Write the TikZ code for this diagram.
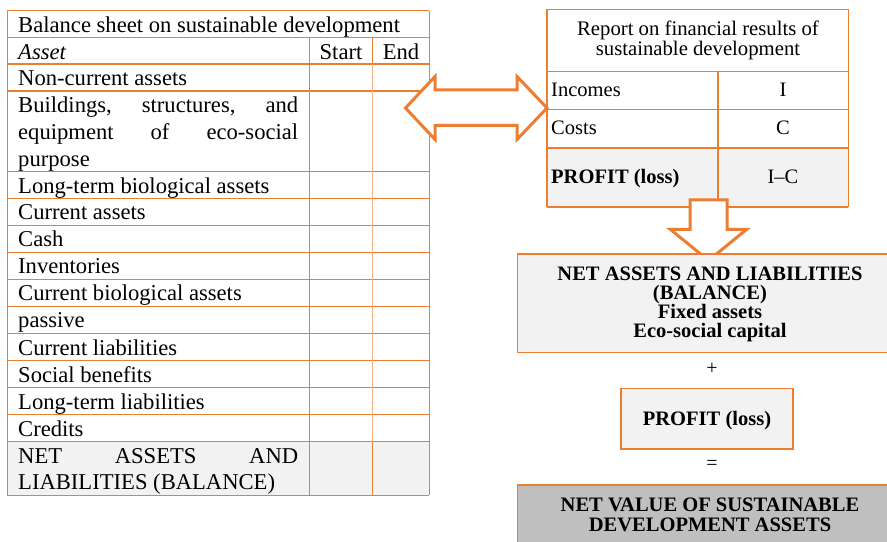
\documentclass[tikz,border=0pt]{standalone}
\usepackage{fontspec}
\setmainfont{Liberation Serif}
\definecolor{org}{HTML}{ED7D31}
\definecolor{orgl}{HTML}{F4B183}
\definecolor{lg}{HTML}{F2F2F2}
\definecolor{mg}{HTML}{BFBFBF}
\begin{document}
\begin{tikzpicture}[x=1bp,y=-1bp,
  tline/.style={draw=org,line width=1.2bp},
  tlinel/.style={draw=orgl,line width=1.2bp},
  bigtxt/.style={anchor=base west,inner sep=0pt,font=\fontsize{22.7}{26.8}\selectfont},
  rtxt/.style={anchor=base west,inner sep=0pt,font=\fontsize{20.6}{19.2}\selectfont},
  ctxt/.style={anchor=base,inner sep=0pt,font=\fontsize{20.6}{19.2}\selectfont},
  btxt/.style={anchor=base,inner sep=0pt,font=\fontsize{20.6}{19.2}\selectfont\bfseries},
  blockarrow/.style={draw=org,line width=3bp,fill=white,line join=miter},
  box/.style={draw=org,line width=1.2bp}]
\useasboundingbox (0,0) rectangle (887,542);

% ---------- left table ----------
\fill[lg] (7.3,441.5) rectangle (429.3,495.3);
\foreach \yy in {10.7,37.3,64,91,171.5,198.3,225.3,252.3,279.3,306.3,333.3,360.3,387.3,414.3,441.5,495.3}
  \draw[tline] (7.3,\yy) -- (429.3,\yy);
\draw[tline] (7.3,10.7) -- (7.3,495.3);
\draw[tline] (429.3,10.7) -- (429.3,495.3);
\draw[tline] (309.3,37.3) -- (309.3,495.3);
\draw[tline] (372.7,37.3) -- (372.7,64);
\draw[tlinel] (372.7,64) -- (372.7,441.5);
\draw[tline] (372.7,441.5) -- (372.7,495.3);

\node[bigtxt] (title) at (18,32.5) {Balance sheet on sustainable development};
\node[bigtxt] (asset) at (18,59.2) {\itshape Asset};
\node[bigtxt,anchor=base] (start) at (341,59.2) {Start};
\node[bigtxt,anchor=base] (end) at (401,59.2) {End};
\node[bigtxt] (r1) at (18,86) {Non-current assets};
\node[bigtxt] (r2a) at (18,113) {\makebox[280bp][s]{Buildings,\hfill structures,\hfill and}};
\node[bigtxt] (r2b) at (18,139.8) {\makebox[280bp][s]{equipment\hfill of\hfill eco-social}};
\node[bigtxt] (r2c) at (18,166.5) {purpose};
\node[bigtxt] (r3) at (18,193.2) {Long-term biological assets};
\node[bigtxt] (r4) at (18,220) {Current assets};
\node[bigtxt] (r5) at (18,247) {Cash};
\node[bigtxt] (r6) at (18,274) {Inventories};
\node[bigtxt] (r7) at (18,301) {Current biological assets};
\node[bigtxt] (r8) at (18,328) {passive};
\node[bigtxt] (r9) at (18,355) {Current liabilities};
\node[bigtxt] (r10) at (18,382) {Social benefits};
\node[bigtxt] (r11) at (18,409) {Long-term liabilities};
\node[bigtxt] (r12) at (18,436) {Credits};
\node[bigtxt] (r13a) at (18,463) {\makebox[280bp][s]{NET\hfill ASSETS\hfill AND}};
\node[bigtxt] (r13b) at (18,489.5) {LIABILITIES (BALANCE)};

% ---------- right table ----------
\fill[lg] (547,148) rectangle (848.3,207);
\foreach \yy in {9.5,71.7,109.7,148,207}
  \draw[tline] (547,\yy) -- (848.3,\yy);
\draw[tline] (547,9.5) -- (547,207);
\draw[tline] (848.3,9.5) -- (848.3,207);
\draw[tline] (718,71.7) -- (718,207);
\node[anchor=base,inner sep=0pt,align=center,font=\fontsize{20.8}{18.5}\selectfont] (rep) at (698,55.5)
  {Report on financial results of\\sustainable development};
\node[rtxt] (inc) at (551,97) {Incomes};
\node[ctxt] (incv) at (783,97) {I};
\node[rtxt] (cost) at (551,135) {Costs};
\node[ctxt] (costv) at (783,135) {C};
\node[rtxt,font=\fontsize{20.6}{19.2}\selectfont\bfseries] (prof) at (551,184) {PROFIT (loss)};
\node[ctxt] (profv) at (783,184) {I–C};

% ---------- double arrow ----------
\draw[blockarrow] (405.5,108) -- (435,76.5) -- (435,90) -- (517,90) -- (517,76.5) -- (547,108)
  -- (517,139.5) -- (517,125.5) -- (435,125.5) -- (435,139.5) -- cycle;

% ---------- down arrow ----------
\draw[blockarrow] (690,200) -- (727,200) -- (727,229.5) -- (746.5,229.5) -- (708.5,260.5)
  -- (670.5,229.5) -- (690,229.5) -- cycle;

% ---------- bottom boxes ----------
\draw[box,fill=lg] (517.5,254) rectangle (890,352.5);
\node[anchor=base,inner sep=0pt,align=center,font=\fontsize{20.6}{19.2}\selectfont\bfseries] (na) at (710,337.5)
  {NET ASSETS AND LIABILITIES\\(BALANCE)\\Fixed assets\\Eco-social capital};
\node[ctxt,font=\fontsize{20}{20}\selectfont] (plus) at (712,374) {+};
\draw[box,fill=lg] (621,388.5) rectangle (793,449);
\node[btxt] (pl) at (707,425) {PROFIT (loss)};
\node[ctxt,font=\fontsize{20}{20}\selectfont] (eq) at (712,469) {=};
\draw[box,fill=mg] (517.5,485) rectangle (890,545);
\node[anchor=base,inner sep=0pt,align=center,font=\fontsize{20.6}{19.2}\selectfont\bfseries] (nv) at (710,531)
  {NET VALUE OF SUSTAINABLE\\DEVELOPMENT ASSETS};
\end{tikzpicture}
\end{document}
